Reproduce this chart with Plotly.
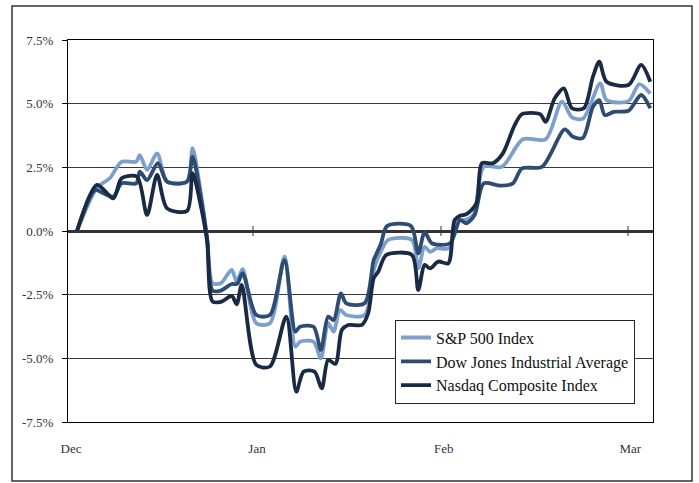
import plotly.graph_objects as go

# trading-day index (0 = start of December) and % change
sp_x = [0, 2.2, 3.6, 4.9, 6.5, 6.9, 7.7, 8.8, 9.9, 12.1, 12.7, 13.6, 14.3, 14.9, 15.8, 17.0, 17.55, 18.2,
        19.7, 21.2, 22.8, 24.0, 24.5, 26.0, 26.8, 27.6, 28.2, 28.9, 29.6, 31.6, 32.7, 33.3, 34.2, 36.8,
        37.5, 38.2, 38.8, 39.5, 40.9, 41.7, 42.8, 43.6, 44.7, 46.7, 49.0, 51.5, 53.3, 54.4, 55.6, 57.5,
        58.2, 60.6, 61.8, 63.0]
sp_y = [0, 1.7, 2.07, 2.72, 2.72, 2.98, 2.4, 3.05, 1.94, 1.94, 3.25, 1.5, -0.3, -2.05, -2.05, -1.53,
        -2.0, -1.5, -3.62, -3.62, -1.01, -4.54, -4.35, -4.35, -5.0, -3.62, -3.95, -3.1, -3.3, -3.3, -1.4,
        -0.88, -0.35, -0.35, -1.47, -0.62, -0.82, -0.68, -0.68, 0.37, 0.45, 0.65, 2.52, 2.52, 3.6, 3.6,
        5.08, 4.46, 4.41, 5.8, 5.14, 5.1, 5.77, 5.4]

dow_x = [0, 2.0, 2.9, 4.0, 4.9, 6.5, 6.9, 7.7, 8.9, 9.9, 12.1, 12.7, 13.6, 14.3, 14.9, 15.8, 17.0, 17.6,
         18.2, 19.7, 21.2, 22.8, 24.0, 24.5, 26.0, 26.8, 27.6, 28.2, 29.0, 29.6, 31.6, 32.6, 32.9, 33.4,
         34.1, 36.7, 37.5, 38.2, 39.0, 41.0, 42.1, 42.8, 43.7, 44.7, 46.5, 47.9, 48.9, 51.1, 53.6, 54.5,
         55.6, 56.7, 57.4, 58.0, 59.0, 60.6, 62.0, 63.0]
dow_y = [0, 1.61, 1.48, 1.35, 1.87, 1.87, 2.33, 2.0, 2.66, 1.94, 1.94, 2.92, 1.35, -0.3, -2.34, -2.34,
         -2.08, -2.08, -1.66, -3.3, -3.3, -1.14, -3.95, -3.76, -3.76, -4.67, -3.36, -3.5, -2.45, -2.84,
         -2.84, -1.14, -0.9, -0.5, 0.2, 0.2, -0.88, -0.05, -0.48, -0.48, 0.43, 0.3, 0.63, 1.87, 1.78,
         1.87, 2.46, 2.52, 3.99, 3.7, 3.66, 4.88, 5.14, 4.55, 4.68, 4.72, 5.34, 4.82]

nas_x = [0, 2.2, 4.0, 4.9, 6.6, 7.7, 8.8, 9.9, 12.1, 12.7, 13.6, 14.3, 14.9, 15.9, 17.0, 17.55, 18.1,
         19.7, 21.2, 23.0, 24.1, 24.9, 26.1, 26.9, 27.6, 28.4, 29.1, 29.8, 31.3, 32.0, 32.6, 33.1, 34.0,
         36.8, 37.5, 38.2, 38.8, 39.7, 40.8, 41.5, 42.1, 42.8, 43.9, 44.5, 45.7, 46.8, 48.1, 48.9, 50.9,
         51.5, 52.5, 53.5, 54.4, 55.7, 56.7, 57.4, 58.2, 60.6, 62.0, 63.0]
nas_y = [0, 1.81, 1.28, 2.07, 2.13, 0.63, 2.2, 0.89, 0.79, 2.27, 1.0, -0.4, -2.77, -2.77, -2.55, -2.88,
         -2.12, -5.26, -5.32, -3.36, -6.31, -5.52, -5.52, -6.18, -5.06, -5.22, -3.89, -3.69, -3.69, -3.23,
         -1.86, -1.6, -0.94, -0.94, -2.32, -1.33, -1.47, -1.2, -1.27, 0.43, 0.6, 0.66, 1.09, 2.66, 2.66,
         3.05, 4.16, 4.59, 4.59, 4.29, 5.21, 5.6, 4.82, 4.82, 6.06, 6.65, 5.86, 5.73, 6.52, 5.86]

series_names = ["S&P 500 Index", "Dow Jones Industrial Average", "Nasdaq Composite Index"]
series_colors = ["#7c9fcd", "#2e4b72", "#1a2a44"]

month_labels = ["Dec", "Jan", "Feb", "Mar"]
month_label_pos = [-0.66, 19.78, 40.3, 60.8]
month_tick_pos = [19.34, 40.0, 60.55]

y_ticks = [-7.5, -5.0, -2.5, 0.0, 2.5, 5.0, 7.5]
y_tick_text = ["-7.5%", "-5.0%", "-2.5%", "0.0%", "2.5%", "5.0%", "7.5%"]

serif = "Liberation Serif, Times New Roman, serif"

fig = go.Figure()
for name, col, xs, ys in zip(series_names, series_colors, [sp_x, dow_x, nas_x], [sp_y, dow_y, nas_y]):
    fig.add_trace(go.Scatter(x=xs, y=ys, mode="lines", name=name,
                             line=dict(color=col, width=3.8, shape="spline", smoothing=0.8)))

shapes = [dict(type="rect", xref="paper", yref="paper", x0=-0.0957, x1=1.0667, y0=-0.1545, y1=1.089,
               line=dict(color="#333", width=1.5), fillcolor="rgba(0,0,0,0)", layer="below")]
for t in month_tick_pos:
    shapes.append(dict(type="line", xref="x", yref="y", x0=t, x1=t, y0=-0.2, y1=0.2,
                       line=dict(color="#333", width=1)))

fig.update_layout(
    width=699, height=483,
    margin=dict(l=68, r=46, t=40, b=61),
    paper_bgcolor="white", plot_bgcolor="white",
    font=dict(family=serif, size=13, color="#333"),
    showlegend=True,
    legend=dict(x=0.559, y=0.268, xanchor="left", yanchor="top",
                bgcolor="white", bordercolor="#222", borderwidth=1,
                font=dict(family=serif, size=16, color="#111"),
                tracegroupgap=0),
    shapes=shapes,
    xaxis=dict(range=[-0.99, 63.3], tickmode="array", tickvals=month_label_pos, ticktext=month_labels,
               ticks="", showgrid=False, zeroline=False, showline=True, mirror=True,
               linecolor="black", linewidth=1, ticklabelstandoff=14,
               tickfont=dict(family=serif, size=13, color="#333")),
    yaxis=dict(range=[-7.5, 7.5], tickmode="array", tickvals=y_ticks, ticktext=y_tick_text,
               ticks="outside", ticklen=5, tickcolor="black", showgrid=True, gridcolor="#3a3a3a",
               gridwidth=1, zeroline=True, zerolinecolor="#333", zerolinewidth=2.5,
               showline=True, mirror=True, linecolor="black", linewidth=1, ticklabelstandoff=6,
               tickfont=dict(family=serif, size=13, color="#333")),
)

fig.write_html("out.html")
